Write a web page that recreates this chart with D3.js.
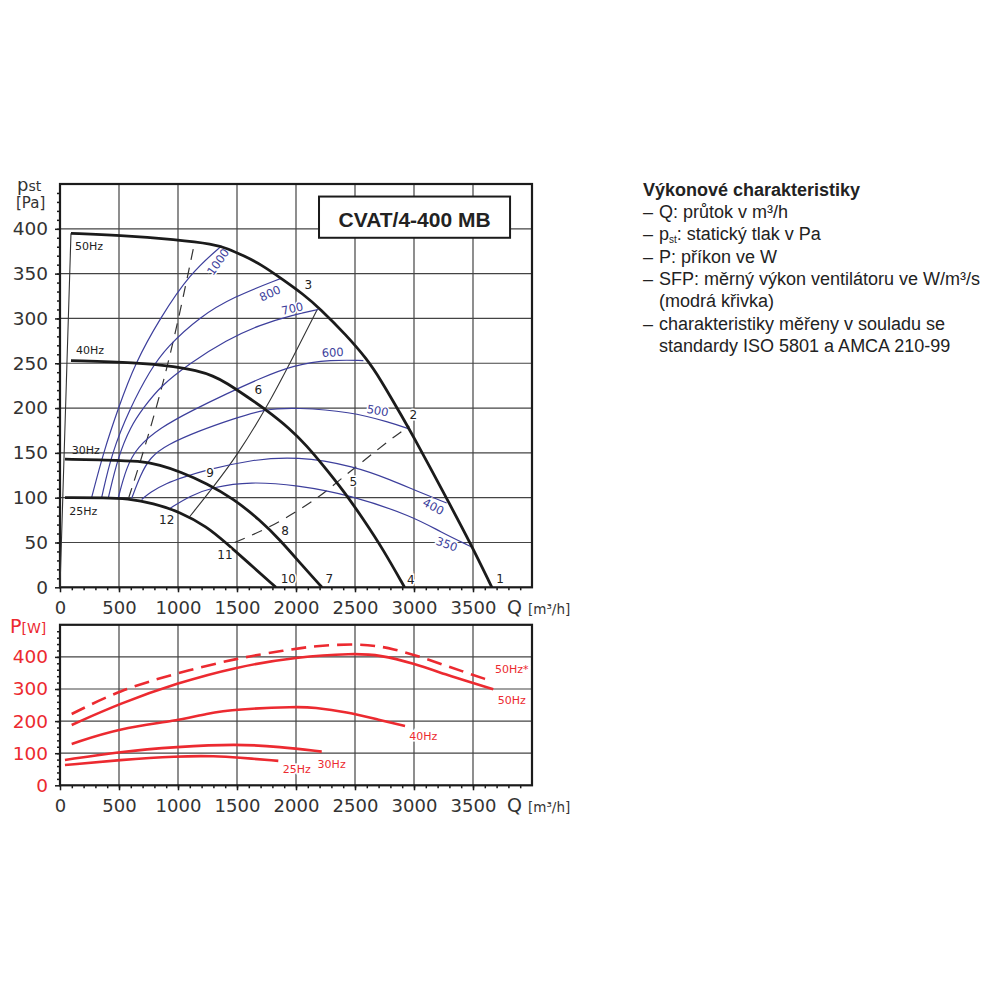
<!DOCTYPE html>
<html>
<head>
<meta charset="utf-8">
<script src="https://cdn.jsdelivr.net/npm/d3@7"></script>
<style>
  body { margin: 0; background: #fff; }
  svg { display: block; }
</style>
</head>
<body>
<script>
// tick labels
var qTicks = [0, 500, 1000, 1500, 2000, 2500, 3000, 3500];
var pTicks = [0, 50, 100, 150, 200, 250, 300, 350, 400];
var wTicks = [0, 100, 200, 300, 400];

// fan curves: Q [m3/h], pst [Pa]
var fan50 = [[93,395],[500,393],[989,388],[1300,383],[1420,378],[1554,370],[1695,361],[1893,343],[2062,327],[2203,311],[2429,281],[2599,255],[2712,233],[2910,188],[3008,165],[3136,134],[3277,99],[3475,50],[3660,0]];
var fan40 = [[93,253],[650,251],[989,246],[1150,242],[1300,236],[1412,228],[1582,213],[1737,199],[1949,177],[2090,158],[2231,136],[2401,108],[2571,76],[2740,42],[2920,0]];
var fan30 = [[42,143],[395,142],[678,141],[847,136.5],[1017,129],[1243,116],[1469,99],[1695,75],[1864,53],[2062,23],[2220,0]];
var fan25 = [[42,100],[395,100],[565,99],[791,94],[1017,84],[1243,68],[1412,49],[1582,29],[1830,0]];

// thin black lines
var lineLeft = [[0,0],[93,395]];
var lineSys = [[1100,79],[1300,112],[1500,147],[1750,200],[1980,258],[2180,310]];
var dashSteep = [[580,99],[664,133],[763,176],[875,228],[1000,296],[1130,378]];
var dashFlat = [[1480,50],[1750,65],[2000,84],[2200,101],[2400,123],[2600,144],[2800,165],[2960,180]];

// SFP curves (blue)
var sfp1000 = [[268,100],[367,150],[494,200],[636,250],[847,300],[1100,350],[1370,381]];
var sfp800 = [[353,100],[438,150],[593,200],[763,242],[904,268],[1186,302],[1469,324],[1879,345]];
var sfp700 = [[410,100],[490,145],[600,180],[706,200],[847,224],[1100,250],[1412,276],[1695,293],[1977,304],[2189,310]];
var sfp600 = [[494,100],[560,133],[650,156],[847,178],[1130,198],[1412,216],[1695,233],[1977,248],[2300,254],[2571,253]];
var sfp500 = [[607,99],[680,125],[763,145],[904,159],[1186,175],[1469,188],[1737,199],[2006,200.5],[2458,196],[2797,184],[2952,177]];
var sfp400 = [[692,98],[763,106],[900,116],[1050,123],[1243,131],[1610,142],[2006,146.5],[2500,135],[2800,120],[3050,106],[3277,94]];
var sfp350 = [[932,88],[1100,102],[1299,112],[1610,118],[2006,114],[2458,103],[2994,79],[3220,62],[3489,45]];
var sfpNames = ["1000", "800", "700", "600", "500", "400", "350"];
var sfpLabelPos = [[1340,363,-55],[1780,328,-25],[1969,311,-13],[2311,262,-3],[2692,197,10],[3164,90,28],[3277,48,20]];

// point numbers
var pointNames = ["1","2","3","4","5","6","7","8","9","10","11","12"];
var pointPos = [[3729,9],[2994,192],[2104,337],[2972,8],[2486,118],[1681,220],[2282,9],[1907,63],[1271,128],[1935,10],[1398,36],[904,75]];
var hzNames = ["50Hz", "40Hz", "30Hz", "25Hz"];
var hzPos = [[127,376.6],[136,260],[99,149],[79,81]];

// power curves: Q [m3/h], P [W]
var pw50star = [[99,222],[508,297],[989,349],[1497,396],[1920,421],[2147,434],[2542,442],[2825,427],[3136,390],[3418,354],[3630,328]];
var pw50 = [[99,188],[508,255],[989,318],[1497,369],[2006,400],[2486,411],[2712,406],[2994,380],[3277,344],[3503,318],[3672,299]];
var pw40 = [[99,129],[508,178],[989,201],[1243,224],[1497,237],[2006,245],[2147,243],[2429,229],[2712,203],[2924,185]];
var pw30 = [[42,79],[508,105],[989,120],[1497,129],[1864,120],[2218,105]];
var pw25 = [[42,63],[508,79],[989,91],[1327,91],[1497,87],[1850,76]];
var pwNames = ["50Hz*", "50Hz", "40Hz", "30Hz", "25Hz"];
var pwLabelPos = [[3828,361],[3828,266],[3079,154.5],[2302,66],[2006,51]];

var black = "#1b1b1b", grid = "#444", blue = "#3d3f9c", red = "#ec2a30", txt = "#333";
var numFont = "DejaVu Sans";

var svg = d3.select("body").append("svg")
    .attr("width", 1000)
    .attr("height", 1000);

var x = d3.scaleLinear().domain([0, 4000]).range([60, 532]);
var yTop = d3.scaleLinear().domain([0, 450]).range([587.3, 184]);
var yBot = d3.scaleLinear().domain([0, 500]).range([785.3, 624.8]);

function drawFrame(y, yMax, hLines, minorStep, labelColor) {
    var g = svg.append("g");
    // grid
    g.selectAll(".vg").data(qTicks.slice(1)).enter().append("line")
        .attr("x1", d => x(d)).attr("x2", d => x(d))
        .attr("y1", y(0)).attr("y2", y(yMax))
        .attr("stroke", grid).attr("stroke-width", 1.2);
    g.selectAll(".hg").data(hLines).enter().append("line")
        .attr("x1", x(0)).attr("x2", x(4000))
        .attr("y1", d => y(d)).attr("y2", d => y(d))
        .attr("stroke", grid).attr("stroke-width", 1.2);

    // x axis: minor + major
    var xMinor = d3.axisBottom(x).tickValues(d3.range(100, 4000, 100)).tickSize(3).tickFormat("");
    var xMajor = d3.axisBottom(x).tickValues(qTicks).tickSize(5).tickPadding(9).tickFormat(d3.format("d"));
    var gxm = g.append("g").attr("transform", "translate(0," + y(0) + ")").call(xMinor);
    var gx = g.append("g").attr("transform", "translate(0," + y(0) + ")").call(xMajor);
    // y axis
    var yTicksArr = hLines.slice();
    yTicksArr.unshift(0);
    var yMinor = d3.axisLeft(y).tickValues(d3.range(minorStep, yMax, minorStep)).tickSize(3).tickFormat("");
    var yMajor = d3.axisLeft(y).tickValues(yTicksArr).tickSize(5).tickPadding(7).tickFormat(d3.format("d"));
    var gym = g.append("g").attr("transform", "translate(" + x(0) + ",0)").call(yMinor);
    var gy = g.append("g").attr("transform", "translate(" + x(0) + ",0)").call(yMajor);

    [gxm, gx, gym, gy].forEach(function(a) {
        a.select(".domain").remove();
        a.selectAll("line").attr("stroke", black).attr("stroke-width", 1.5);
    });
    gx.selectAll("text").attr("font-family", numFont).attr("font-size", 18).attr("fill", txt);
    gy.selectAll("text").attr("font-family", numFont).attr("font-size", 18.5).attr("fill", labelColor);

    // frame
    g.append("rect")
        .attr("x", x(0)).attr("y", y(yMax))
        .attr("width", x(4000) - x(0)).attr("height", y(0) - y(yMax))
        .attr("fill", "none").attr("stroke", black).attr("stroke-width", 2.2);

    // Q [m3/h]
    var q = g.append("text").attr("x", 507).attr("y", y(0) + 27)
        .attr("font-family", numFont).attr("fill", txt);
    q.append("tspan").attr("font-size", 19).text("Q ");
    q.append("tspan").attr("font-size", 13.5).text("[m³/h]");
    return g;
}

drawFrame(yTop, 450, pTicks.slice(1), 10, txt);
drawFrame(yBot, 500, wTicks.slice(1), 20, red);

var line = d3.line()
    .x(d => x(d[0])).y(d => yTop(d[1]))
    .curve(d3.curveBasis);
var lineW = d3.line()
    .x(d => x(d[0])).y(d => yBot(d[1]))
    .curve(d3.curveBasis);

var plot = svg.append("g");

// thin system lines
[lineLeft, lineSys].forEach(function(d) {
    plot.append("path").attr("d", line(d)).attr("fill", "none")
        .attr("stroke", "#333").attr("stroke-width", 1.1);
});
[dashSteep, dashFlat].forEach(function(d) {
    plot.append("path").attr("d", line(d)).attr("fill", "none")
        .attr("stroke", "#333").attr("stroke-width", 1.2)
        .attr("stroke-dasharray", "11,8");
});

// SFP curves
[sfp1000, sfp800, sfp700, sfp600, sfp500, sfp400, sfp350].forEach(function(d) {
    plot.append("path").attr("d", line(d)).attr("fill", "none")
        .attr("stroke", blue).attr("stroke-width", 1.2);
});
plot.selectAll(".sfpl").data(sfpNames).enter().append("text")
    .attr("transform", (d, i) => "translate(" + x(sfpLabelPos[i][0]) + "," + yTop(sfpLabelPos[i][1]) + ") rotate(" + sfpLabelPos[i][2] + ")")
    .attr("text-anchor", "middle").attr("dy", "0.35em")
    .attr("font-family", numFont).attr("font-size", 11.5).attr("fill", blue)
    .attr("stroke", "#fff").attr("stroke-width", 3).attr("paint-order", "stroke")
    .text(d => d);

// fan curves
[fan50, fan40, fan30, fan25].forEach(function(d) {
    plot.append("path").attr("d", line(d)).attr("fill", "none")
        .attr("stroke", black).attr("stroke-width", 2.8);
});
plot.selectAll(".hzl").data(hzNames).enter().append("text")
    .attr("x", (d, i) => x(hzPos[i][0])).attr("y", (d, i) => yTop(hzPos[i][1]))
    .attr("font-family", numFont).attr("font-size", 11).attr("fill", "#222")
    .text(d => d);
plot.selectAll(".ptl").data(pointNames).enter().append("text")
    .attr("x", (d, i) => x(pointPos[i][0])).attr("y", (d, i) => yTop(pointPos[i][1]))
    .attr("text-anchor", "middle").attr("dy", "0.35em")
    .attr("font-family", numFont).attr("font-size", 12).attr("fill", "#222")
    .attr("stroke", "#fff").attr("stroke-width", 3).attr("paint-order", "stroke")
    .text(d => d);

// title box
svg.append("rect")
    .attr("x", x(2195)).attr("y", yTop(436))
    .attr("width", x(3814) - x(2195)).attr("height", yTop(390) - yTop(436))
    .attr("fill", "#fff").attr("stroke", black).attr("stroke-width", 2);
svg.append("text")
    .attr("x", x(3005)).attr("y", yTop(402))
    .attr("text-anchor", "middle")
    .attr("font-family", "Liberation Sans, Arial, sans-serif").attr("font-weight", "bold")
    .attr("font-size", 21).attr("fill", "#222")
    .text("CVAT/4-400 MB");

// pst / [Pa]
var pst = svg.append("text").attr("x", 17).attr("y", 191).attr("font-family", numFont).attr("fill", txt);
pst.append("tspan").attr("font-size", 18).text("p");
pst.append("tspan").attr("font-size", 14).text("st");
svg.append("text").attr("x", 16).attr("y", 208).attr("font-family", numFont)
    .attr("font-size", 15).attr("fill", txt).text("[Pa]");

// P[W]
var pw = svg.append("text").attr("x", 10).attr("y", 633).attr("font-family", numFont).attr("fill", red);
pw.append("tspan").attr("font-size", 19).text("P");
pw.append("tspan").attr("font-size", 14).text("[W]");

// power curves
plot.append("path").attr("d", lineW(pw50star)).attr("fill", "none")
    .attr("stroke", red).attr("stroke-width", 2.6).attr("stroke-dasharray", "15,8");
[pw50, pw40, pw30, pw25].forEach(function(d) {
    plot.append("path").attr("d", lineW(d)).attr("fill", "none")
        .attr("stroke", red).attr("stroke-width", 2.6);
});
plot.selectAll(".pwl").data(pwNames).enter().append("text")
    .attr("x", (d, i) => x(pwLabelPos[i][0])).attr("y", (d, i) => yBot(pwLabelPos[i][1]))
    .attr("text-anchor", "middle").attr("dy", "0.35em")
    .attr("font-family", numFont).attr("font-size", 11).attr("fill", red)
    .attr("stroke", "#fff").attr("stroke-width", 3).attr("paint-order", "stroke")
    .text(d => d);

// description text
var desc = svg.append("g").attr("font-family", "Liberation Sans, Arial, sans-serif")
    .attr("font-size", 18).attr("fill", "#222");
desc.append("text").attr("x", 643).attr("y", 196).attr("font-weight", "bold").text("Výkonové charakteristiky");
var lines = [
    ["– ", "Q: průtok v m³/h"],
    ["– ", "p", "st", ": statický tlak v Pa"],
    ["– ", "P: příkon ve W"],
    ["– ", "SFP: měrný výkon ventilátoru ve W/m³/s"],
    ["", "(modrá křivka)"],
    ["– ", "charakteristiky měřeny v souladu se"],
    ["", "standardy ISO 5801 a AMCA 210-99"]
];
lines.forEach(function(l, i) {
    var yy = 218 + i * 22.3;
    if (l[0]) desc.append("text").attr("x", 643).attr("y", yy).text("–");
    var t = desc.append("text").attr("x", 659).attr("y", yy);
    if (l.length === 4) {
        t.append("tspan").text(l[1]);
        t.append("tspan").attr("font-size", 10).attr("dy", 3).text(l[2]);
        t.append("tspan").attr("dy", -3).text(l[3]);
    } else {
        t.text(l[1]);
    }
});
</script>
</body>
</html>
